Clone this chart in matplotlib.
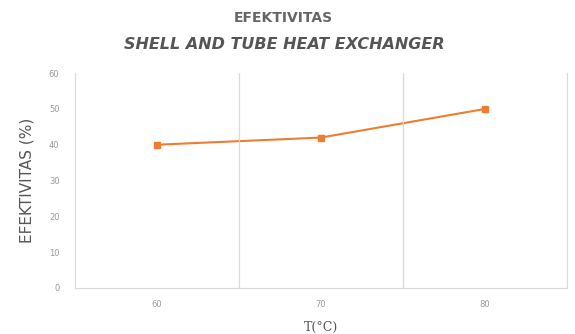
import matplotlib.pyplot as plt

suhu = ['60', '70', '80']
efektivitas = [40, 42, 50]

fig = plt.figure(figsize=(5.75, 3.34), dpi=100)
ax = fig.add_axes([0.130, 0.138, 0.856, 0.643])

x = range(len(suhu))
ax.plot(x, efektivitas, color='#ED7D31', linewidth=1.5, marker='s', markersize=5)

ax.set_xlim(-0.5, len(suhu) - 0.5)
ax.set_ylim(0, 60)
ax.set_yticks(range(0, 61, 10))
ax.set_xticks(list(x))
ax.set_xticklabels(suhu)
ax.tick_params(length=0, labelsize=6, colors='#999999')
ax.tick_params(axis='x', pad=9)
ax.tick_params(axis='y', pad=11)

# garis vertikal di batas kategori
for b in [0.5, 1.5]:
    ax.axvline(b, color='#d9d9d9', linewidth=0.9)

for s in ['left', 'right', 'bottom']:
    ax.spines[s].set_color('#d9d9d9')
ax.spines['top'].set_visible(False)

ax.set_ylabel('EFEKTIVITAS (%)', fontsize=11, color='#555555', labelpad=10)
ax.set_xlabel('T(\u00b0C)', fontsize=9, color='#555555', family='DejaVu Serif', labelpad=8)

fig.text(0.492, 0.945, 'EFEKTIVITAS', ha='center', va='center', fontsize=10,
         fontweight='bold', color='#666666')
fig.text(0.495, 0.866, 'SHELL AND TUBE HEAT EXCHANGER', ha='center', va='center',
         fontsize=11.5, fontweight='bold', style='italic', color='#555555')

fig.savefig('out.png', dpi=100)
